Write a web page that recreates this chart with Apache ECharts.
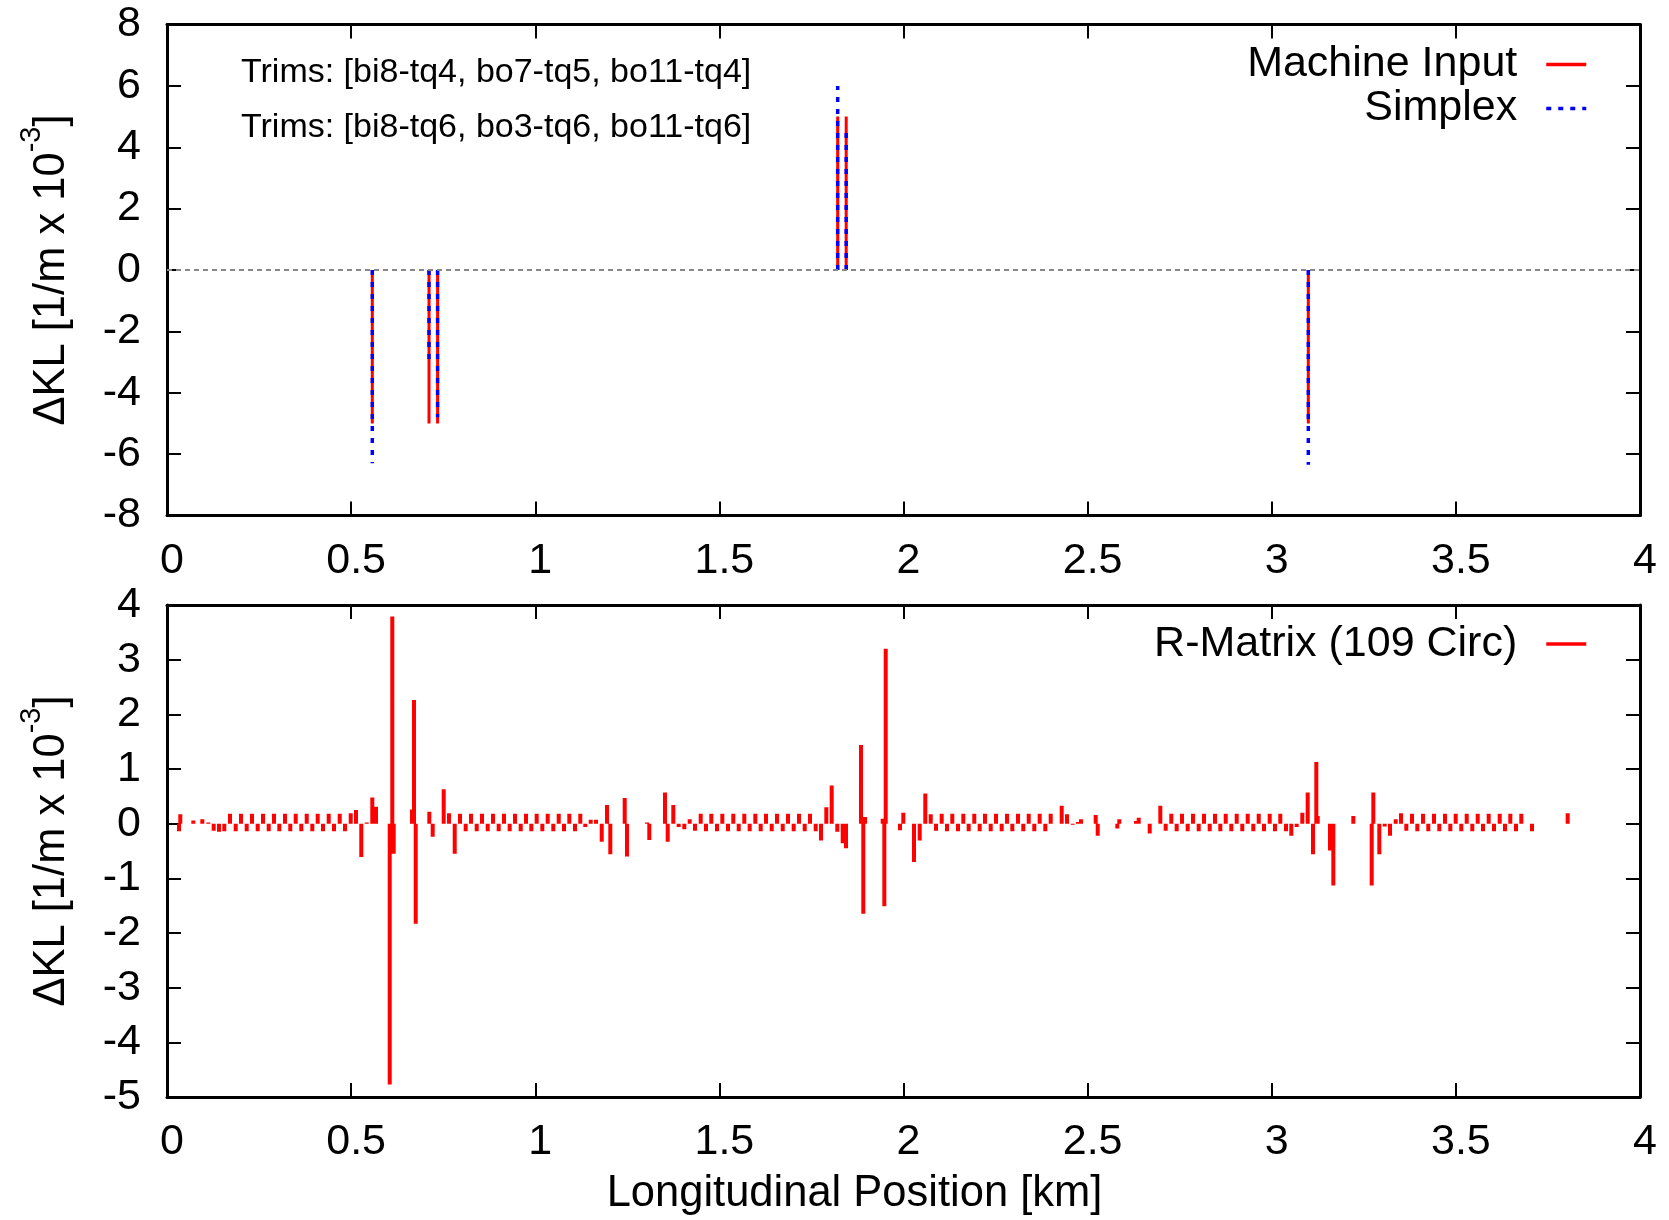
<!DOCTYPE html>
<html>
<head>
<meta charset="utf-8">
<script src="https://cdn.jsdelivr.net/npm/echarts/dist/echarts.min.js"></script>
<style>
html,body{margin:0;padding:0;background:#fff;}
#chart{width:1669px;height:1220px;}
</style>
</head>
<body>
<div id="chart"></div>
<script>
// ---------------- data ----------------
const xRange = [0, 4, 0.5];            // min, max, step (km)
const topYRange = [-8, 8, 2];
const botYRange = [-5, 4, 1];

const trimLabels = [
  'Trims: [bi8-tq4, bo7-tq5, bo11-tq4]',
  'Trims: [bi8-tq6, bo3-tq6, bo11-tq6]'
];

// top panel: trim positions (km) and ΔKL (1/m x 1e-3)
const topPositions = [0.5575, 0.7115, 0.7348, 1.8213, 1.8444, 3.0993];
const machineInput = [-5, -5, -5, 5, 5, -5];
const simplex      = [-6.3, -3.1, -4.8, 6.0, 4.6, -6.35];

// bottom panel: R-Matrix correction positions (km)
const rmPositions = [
  0.0326,0.0361,0.0714,0.0788,0.0959,0.1122,0.1268,0.1412,0.1556,
  0.1711,0.1866,0.2010,0.2164,0.2308,0.2463,0.2607,0.2762,0.2906,0.3050,0.3204,0.3348,0.3495,0.3647,0.3794,0.3946,0.4092,0.4236,0.4391,0.4535,0.4690,0.4834,
  0.4989,0.5132,0.5276,0.5423,0.5575,0.5675,0.6048,0.6118,0.6156,0.6653,0.6707,0.6754,0.7123,0.7215,0.7514,0.7658,0.7813,
  0.7957,0.8111,0.8255,0.8410,0.8554,0.8709,0.8853,0.9007,0.9151,0.9306,0.9450,0.9605,0.9749,0.9893,1.0039,1.0192,1.0338,1.0490,1.0637,1.0781,1.0925,1.1079,1.1223,
  1.1359,1.1506,1.1650,1.1805,1.1949,1.2038,1.2429,1.2491,1.3035,1.3097,1.3523,1.3597,1.3749,1.3895,1.4048,1.4194,1.4338,
  1.4493,1.4637,1.4781,1.4935,1.5080,1.5234,1.5378,1.5525,1.5677,1.5823,1.5976,1.6122,1.6266,1.6421,1.6565,1.6720,1.6864,1.7018,1.7162,1.7317,1.7461,1.7616,
  1.7760,1.7904,1.8050,1.8202,1.8349,1.8439,1.8846,1.8908,1.8955,1.9435,1.9479,1.9517,1.9905,1.9995,2.0041,2.0285,2.0440,2.0592,2.0739,2.0883,
  2.1037,2.1181,2.1325,2.1480,2.1624,2.1770,2.1922,2.2069,2.2213,2.2368,2.2512,2.2666,2.2811,2.2955,2.3109,2.3253,2.3400,2.3552,2.3698,2.3851,2.3997,
  2.4141,2.4296,2.4440,2.4595,2.4739,2.4820,2.5219,2.5274,2.5806,2.5860,2.6314,2.6387,2.6539,2.6686,2.6974,2.7120,
  2.7272,2.7418,2.7563,2.7717,2.7862,2.8016,2.8160,2.8315,2.8459,2.8603,2.8750,2.8902,2.9048,2.9200,2.9347,2.9499,2.9646,2.9790,2.9944,3.0088,3.0232,3.0387,
  3.0531,3.0678,3.0830,3.0976,3.1120,3.1210,3.1248,3.1582,3.1672,3.2215,3.2714,3.2758,3.2921,3.3067,3.3211,3.3366,3.3510,3.3654,
  3.3809,3.3953,3.4108,3.4251,3.4406,3.4550,3.4705,3.4849,3.4995,3.5147,3.5294,3.5446,3.5593,3.5737,3.5891,3.6035,3.6190,3.6334,3.6478,3.6633,3.6777,
  3.6923,3.7067,3.7211,3.7358,3.7502,3.7646,3.8036
];
// bottom panel: ΔKL values (1/m x 1e-3)
const rmValues = [
  -0.14,0.17,0.06,0.01,0.08,0.02,-0.13,-0.15,-0.14,
  0.18,-0.14,0.18,-0.14,0.18,-0.14,0.18,-0.14,0.18,-0.14,0.18,-0.14,0.18,-0.14,0.18,-0.14,0.18,-0.14,0.18,-0.14,0.18,-0.14,
  0.19,0.25,-0.61,0.02,0.48,0.31,-4.77,3.79,-0.55,0.26,2.26,-1.83,0.22,-0.24,0.63,0.19,-0.55,
  0.18,-0.14,0.18,-0.14,0.18,-0.14,0.18,-0.14,0.18,-0.14,0.18,-0.14,0.18,-0.14,0.18,-0.14,0.18,-0.14,0.18,-0.14,0.18,-0.14,0.18,
  -0.06,0.07,0.07,-0.33,0.34,-0.56,0.47,-0.60,0.02,-0.30,0.57,-0.33,0.34,-0.06,-0.10,0.08,-0.13,
  0.18,-0.14,0.18,-0.14,0.18,-0.14,0.18,-0.14,0.18,-0.14,0.18,-0.14,0.18,-0.14,0.18,-0.14,0.18,-0.14,0.18,-0.14,0.18,-0.14,
  -0.31,0.30,0.70,-0.15,-0.36,-0.45,1.44,-1.65,0.12,0.09,-1.51,3.20,-0.12,0.20,0.01,-0.70,-0.31,0.55,0.17,-0.13,
  0.18,-0.14,0.18,-0.14,0.18,-0.14,0.18,-0.14,0.18,-0.14,0.18,-0.14,0.18,-0.14,0.18,-0.14,0.18,-0.14,0.18,-0.14,0.18,
  0.01,0.33,0.17,-0.02,0.03,0.08,0.16,-0.22,-0.09,0.08,0.05,0.11,0.01,-0.18,0.33,-0.13,
  0.18,-0.14,0.18,-0.14,0.18,-0.14,0.18,-0.14,0.18,-0.14,0.18,-0.14,0.18,-0.14,0.18,-0.14,0.18,-0.14,0.18,-0.14,0.18,-0.14,
  -0.22,-0.06,0.20,0.57,-0.56,1.13,0.14,-0.49,-1.13,0.14,-1.13,0.57,-0.56,-0.05,-0.22,0.08,0.19,-0.13,
  0.18,-0.14,0.18,-0.14,0.18,-0.14,0.18,-0.14,0.18,-0.14,0.18,-0.14,0.18,-0.14,0.18,-0.14,0.18,-0.14,0.18,-0.14,0.18,
  0.01,-0.14,0.01,0.01,0.01,-0.01,0.19
];

// ---------------- chart ----------------
const FONT = '"Liberation Sans", Arial, Helvetica, sans-serif';
const FS = 43;

function impulses(xs, ys) {
  const out = [];
  for (let i = 0; i < xs.length; i++) {
    out.push([xs[i], 0], [xs[i], ys[i]], [xs[i], '-']);
  }
  return out;
}

function xAx(gridIndex, position, showLabels, extra) {
  return Object.assign({
    type: 'value', gridIndex, position,
    min: xRange[0], max: xRange[1], interval: xRange[2],
    axisLine: { show: true, onZero: false, lineStyle: { color: '#000', width: 3 } },
    axisTick: { show: true, inside: true, length: 14, lineStyle: { color: '#000', width: 2 } },
    axisLabel: { show: showLabels, margin: 24, fontSize: FS, fontFamily: FONT, color: '#000',
                 padding: [0, 0, 0, 10],
                 showMinLabel: true, showMaxLabel: true, hideOverlap: false },
    splitLine: { show: false }
  }, extra || {});
}

const yName = '{a|ΔKL [1/m x 10}{s|-3}{a|]}';
const yNameStyle = {
  fontSize: FS, fontFamily: FONT, color: '#000',
  rich: {
    a: { fontSize: FS + 0.5, fontFamily: FONT, color: '#000', lineHeight: 57, verticalAlign: 'bottom' },
    s: { fontSize: 29, fontFamily: FONT, color: '#000', lineHeight: 30, verticalAlign: 'top' }
  }
};

function yAx(gridIndex, position, range, showLabels) {
  const ax = {
    type: 'value', gridIndex, position,
    min: range[0], max: range[1], interval: range[2],
    axisLine: { show: true, onZero: false, lineStyle: { color: '#000', width: 3 } },
    axisTick: { show: true, inside: true, length: 14, lineStyle: { color: '#000', width: 2 } },
    axisLabel: { show: showLabels, margin: 26, fontSize: FS, fontFamily: FONT, color: '#000',
                 showMinLabel: true, showMaxLabel: true, hideOverlap: false },
    splitLine: { show: false }
  };
  if (showLabels) {
    ax.name = yName;
    ax.nameLocation = 'middle';
    ax.nameRotate = 90;
    ax.nameGap = 93;
    ax.nameMoveOverlap = false;
    ax.nameTextStyle = yNameStyle;
  }
  return ax;
}

const legendText = { fontSize: FS, fontFamily: FONT, color: '#000', lineHeight: 42, padding: [0, 24, 0, 0] };
const legendBase = {
  orient: 'vertical', align: 'right', right: 81, padding: 0, itemGap: 1,
  itemWidth: 40, itemHeight: 14, selectedMode: false, textStyle: legendText,
  itemStyle: { color: 'rgba(0,0,0,0)', borderWidth: 0, opacity: 0 },
  lineStyle: { width: 3.5 }
};

const option = {
  animation: false,
  backgroundColor: '#fff',
  grid: [
    { left: 167, top: 24.5, width: 1473, height: 491, containLabel: false, outerBoundsMode: 'none' },
    { left: 167, top: 605, width: 1473, height: 492, containLabel: false, outerBoundsMode: 'none' }
  ],
  xAxis: [
    xAx(0, 'bottom', true),
    xAx(0, 'top', false),
    xAx(1, 'bottom', true, {
      name: 'Longitudinal Position [km]', nameLocation: 'middle', nameGap: 75, nameMoveOverlap: false,
      nameTextStyle: { fontSize: FS + 0.5, fontFamily: FONT, color: '#000', padding: [0, 98, 0, 0] }
    }),
    xAx(1, 'top', false)
  ],
  yAxis: [
    yAx(0, 'left', topYRange, true),
    yAx(0, 'right', topYRange, false),
    yAx(1, 'left', botYRange, true),
    yAx(1, 'right', botYRange, false)
  ],
  legend: [
    Object.assign({ data: ['Machine Input', 'Simplex'], top: 43 }, legendBase),
    Object.assign({ data: ['R-Matrix (109 Circ)'], top: 622.5 }, legendBase)
  ],
  graphic: [
    { type: 'text', x: 241, y: 72.5, style: { text: trimLabels[0], fontSize: 34, fontFamily: FONT, fill: '#000', verticalAlign: 'middle', align: 'left' } },
    { type: 'text', x: 241, y: 127.5, style: { text: trimLabels[1], fontSize: 34, fontFamily: FONT, fill: '#000', verticalAlign: 'middle', align: 'left' } }
  ],
  series: [
    {
      name: 'zero', type: 'line', xAxisIndex: 0, yAxisIndex: 0, data: [], z: 1, silent: true,
      markLine: { silent: true, symbol: ['none', 'none'], label: { show: false },
        lineStyle: { color: '#888', width: 2, type: [5, 4] }, data: [{ yAxis: 0 }] }
    },
    {
      name: 'Machine Input', type: 'line', xAxisIndex: 0, yAxisIndex: 0, z: 3,
      data: impulses(topPositions, machineInput), symbol: 'none', showSymbol: false, connectNulls: false,
      color: '#ff0000', lineStyle: { color: '#ff0000', width: 3, type: 'solid', cap: 'butt' }
    },
    {
      name: 'Simplex', type: 'line', xAxisIndex: 0, yAxisIndex: 0, z: 4,
      data: impulses(topPositions, simplex), symbol: 'none', showSymbol: false, connectNulls: false,
      color: '#0000ff', lineStyle: { color: '#0000ff', width: 3.5, type: [5, 7], cap: 'butt' }
    },
    {
      name: 'R-Matrix (109 Circ)', type: 'line', xAxisIndex: 2, yAxisIndex: 2, z: 3,
      data: impulses(rmPositions, rmValues), symbol: 'none', showSymbol: false, connectNulls: false,
      color: '#ff0000', lineStyle: { color: '#ff0000', width: 4, type: 'solid', cap: 'butt' }
    }
  ]
};

const chart = echarts.init(document.getElementById('chart'), null, { renderer: 'canvas', width: 1669, height: 1220 });
chart.setOption(option);
</script>
</body>
</html>
